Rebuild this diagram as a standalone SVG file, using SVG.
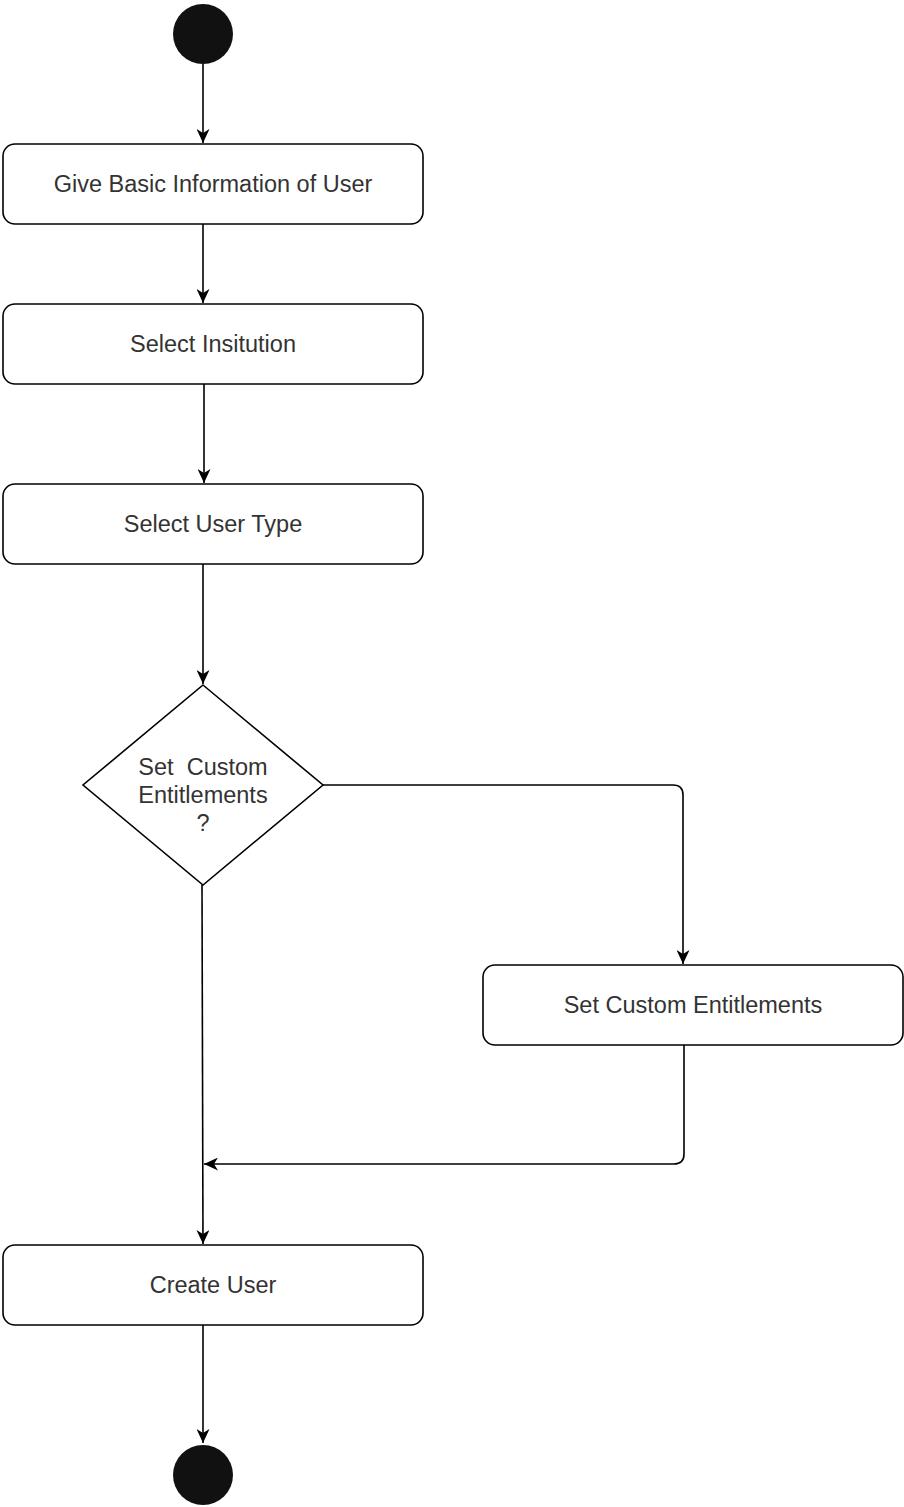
<svg xmlns="http://www.w3.org/2000/svg" width="904" height="1507" viewBox="0 0 904 1507">
<style>
.box{fill:#fff;stroke:#000;stroke-width:1.6}
.lbl{font-family:"Liberation Sans",Arial,sans-serif;font-size:23.5px;fill:#333;text-anchor:middle;dominant-baseline:central}
.con{fill:none;stroke:#000;stroke-width:1.6}
</style>
<defs>
<marker id="arr" viewBox="0 0 14 13" refX="14" refY="6.5" markerWidth="14" markerHeight="13" markerUnits="userSpaceOnUse" orient="auto">
<path d="M0,0 L14,6.5 L0,13 L4,6.5 Z" fill="#000"/>
</marker>
</defs>
<rect width="904" height="1507" fill="#fff"/>
<g id="connectors">
<path class="con" d="M203,64 L203,143" marker-end="url(#arr)"/>
<path class="con" d="M203,224 L203,303" marker-end="url(#arr)"/>
<path class="con" d="M204,384 L204,483" marker-end="url(#arr)"/>
<path class="con" d="M203,564 L203,684" marker-end="url(#arr)"/>
<path class="con" d="M202,885 L203,1244" marker-end="url(#arr)"/>
<path class="con" d="M323,785 L673,785 Q683,785 683,795 L683,964" marker-end="url(#arr)"/>
<path class="con" d="M684,1045 L684,1154 Q684,1164 674,1164 L204,1164" marker-end="url(#arr)"/>
<path class="con" d="M203,1325 L203,1443" marker-end="url(#arr)"/>
</g>
<g id="start"><circle cx="203" cy="34" r="30" fill="#111"/></g>
<g id="n1"><rect class="box" x="3" y="144" width="420" height="80" rx="12"/><text class="lbl" x="213" y="184">Give Basic Information of User</text></g>
<g id="n2"><rect class="box" x="3" y="304" width="420" height="80" rx="12"/><text class="lbl" x="213" y="344">Select Insitution</text></g>
<g id="n3"><rect class="box" x="3" y="484" width="420" height="80" rx="12"/><text class="lbl" x="213" y="524">Select User Type</text></g>
<g id="decision"><polygon class="box" points="203,685 323,785 203,885 83,785"/>
<text class="lbl" x="203" y="767" xml:space="preserve">Set  Custom</text>
<text class="lbl" x="203" y="795">Entitlements</text>
<text class="lbl" x="203" y="823">?</text></g>
<g id="n4"><rect class="box" x="483" y="965" width="420" height="80" rx="12"/><text class="lbl" x="693" y="1005">Set Custom Entitlements</text></g>
<g id="n5"><rect class="box" x="3" y="1245" width="420" height="80" rx="12"/><text class="lbl" x="213" y="1285">Create User</text></g>
<g id="end"><circle cx="203" cy="1475" r="30" fill="#111"/></g>
</svg>
